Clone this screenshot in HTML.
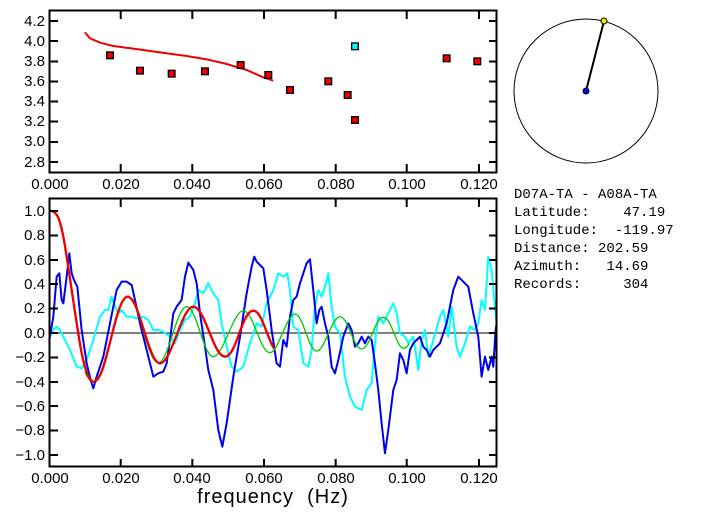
<!DOCTYPE html>
<html><head><style>
body{margin:0;background:#fff;}
svg{display:block;font-family:"Liberation Sans",sans-serif;}
.t{font-size:15px;fill:#000;}
.r{font-family:"Liberation Mono","DejaVu Sans Mono",monospace;font-size:14px;}
</style></head><body>
<svg width="703" height="519" viewBox="0 0 703 519" xmlns="http://www.w3.org/2000/svg">
<rect width="703" height="519" fill="#fff"/>
<rect x="49.5" y="10.5" width="447" height="162" fill="none" stroke="#000" stroke-width="2"/>
<g stroke="#000" stroke-width="2">
<path d="M120.7 11v8M192.3 11v8M264 11v8M335.7 11v8M406.7 11v8M479 11v8M120.7 172v-8M192.3 172v-8M264 172v-8M335.7 172v-8M406.7 172v-8M479 172v-8"/>
<path d="M50 21h8M50 41h8M50 61.5h8M50 81.5h8M50 101.5h8M50 121.5h8M50 142h8M50 162h8M497 21h-8M497 41h-8M497 61.5h-8M497 81.5h-8M497 101.5h-8M497 121.5h-8M497 142h-8M497 162h-8"/>
</g>
<g class="t" text-anchor="end">
<text x="45" y="26">4.2</text><text x="45" y="46">4.0</text><text x="45" y="66">3.8</text><text x="45" y="86">3.6</text><text x="45" y="106">3.4</text><text x="45" y="126">3.2</text><text x="45" y="146">3.0</text><text x="45" y="167">2.8</text>
</g>
<g class="t" text-anchor="middle">
<text x="50" y="189">0.000</text><text x="121" y="189">0.020</text><text x="192" y="189">0.040</text><text x="264" y="189">0.060</text><text x="336" y="189">0.080</text><text x="407" y="189">0.100</text><text x="479" y="189">0.120</text>
</g>
<g transform="scale(0.3333)">
<polyline fill="none" stroke="#e00" stroke-width="6" points="255,97 270,115 300,128 340,138 400,146 480,157 560,168 620,178 680,192 740,210 790,232 820,242"/>
<g stroke="#000" stroke-width="4" fill="#e00">
<rect x="320" y="156" width="20" height="20"/><rect x="410" y="202" width="20" height="20"/><rect x="505" y="211" width="20" height="20"/><rect x="605" y="204" width="20" height="20"/><rect x="712" y="185" width="20" height="20"/><rect x="795" y="215" width="20" height="20"/><rect x="860" y="260" width="20" height="20"/><rect x="975" y="234" width="20" height="20"/><rect x="1033" y="275" width="20" height="20"/><rect x="1055" y="350" width="20" height="20"/><rect x="1330" y="165" width="20" height="20"/><rect x="1422" y="174" width="20" height="20"/>
<rect x="1055" y="129" width="20" height="20" fill="#0ff"/>
</g>
</g>
<circle cx="586" cy="91" r="72" fill="none" stroke="#000" stroke-width="1"/>
<line x1="586" y1="91" x2="604" y2="21" stroke="#000" stroke-width="2"/>
<circle cx="604" cy="21" r="3" fill="#ee0" stroke="#000" stroke-width="1"/>
<circle cx="586" cy="91" r="3" fill="#00e" stroke="#000" stroke-width="1"/>
<g class="r">
<text x="514" y="198">D07A-TA&#160;-&#160;A08A-TA</text>
<text x="514" y="216">Latitude:&#160;&#160;&#160;&#160;47.19</text>
<text x="514" y="234">Longitude:&#160;&#160;-119.97</text>
<text x="514" y="252">Distance:&#160;202.59</text>
<text x="514" y="270">Azimuth:&#160;&#160;&#160;14.69</text>
<text x="514" y="288">Records:&#160;&#160;&#160;&#160;&#160;304</text>
</g>
<line x1="50" y1="333" x2="497" y2="333" stroke="#000" stroke-width="1"/>
<g transform="translate(0,190) scale(0.3333)" fill="none" stroke-linejoin="round">
<polyline stroke="#0ff" stroke-width="6" points="148,440 160,420 170,410 180,420 190,440 210,480 230,530 245,535 260,510 280,450 300,380 315,360 325,360 335,320 345,350 355,370 365,360 380,380 395,380 410,385 430,380 445,390 460,420 475,420 490,425 510,440 525,460 540,420 555,390 570,380 585,340 595,300 610,310 625,280 640,310 655,330 665,400 680,470 695,530 710,545 730,530 750,460 770,400 785,410 800,340 820,300 835,250 850,260 862,250 870,300 880,410 895,420 910,520 925,530 935,480 945,350 955,300 965,320 975,290 985,250 995,350 1005,410 1020,430 1035,560 1050,620 1065,650 1085,660 1100,600 1115,580 1125,460 1135,380 1150,400 1165,370 1180,340 1190,370 1200,430 1215,440 1225,460 1240,440 1255,540 1265,450 1275,420 1285,500 1300,450 1320,380 1330,360 1345,440 1355,350 1370,470 1380,500 1395,460 1410,410 1425,420 1435,400 1445,330 1455,360 1465,200 1475,240 1485,350 1490,400"/>
<polyline stroke="#00e" stroke-width="6" points="148,450 160,380 170,260 178,250 185,330 190,340 200,260 208,190 215,250 222,270 232,290 245,420 260,520 272,570 280,595 290,560 310,500 330,400 350,300 365,275 380,275 395,285 405,330 420,400 440,480 460,560 475,550 490,545 500,520 510,450 520,370 530,350 545,330 555,260 565,218 580,240 590,280 600,370 615,470 625,540 640,600 655,720 667,770 680,700 700,560 720,440 740,310 755,230 763,200 770,215 780,225 790,235 800,300 815,420 830,520 840,530 850,450 860,470 870,380 880,330 890,320 900,280 910,250 920,220 930,208 940,300 950,400 958,360 965,350 975,400 985,440 995,530 1005,550 1015,510 1030,440 1045,400 1055,420 1065,470 1075,460 1085,440 1095,460 1105,440 1115,450 1125,520 1135,600 1145,700 1155,790 1165,720 1180,600 1190,570 1200,490 1210,510 1220,550 1230,480 1240,460 1250,450 1260,440 1270,470 1280,480 1290,500 1300,480 1320,460 1340,400 1360,300 1375,260 1390,275 1405,290 1420,370 1435,440 1445,560 1455,500 1465,540 1475,500 1480,530 1487,420 1490,400"/>
<path stroke="#0c0" stroke-width="4" d="M255 545 C262 565 272 575 280 575 C317 575 346 320 383 320 C418 320 440 518 475 518 C505 518 530 350 560 350 C590 350 610 500 640 500 C670 500 700 362 730 362 C760 362 780 488 810 488 C835 488 860 372 885 372 C910 372 925 483 950 483 C975 483 995 380 1020 380 C1045 380 1060 477 1085 477 C1110 477 1125 382 1150 382 C1175 382 1190 475 1210 475 C1220 475 1225 465 1228 460"/>
<path stroke="#e00" stroke-width="7" d="M148 62 C170 62 178 80 190 140 C205 220 225 380 245 490 C258 550 268 575 282 575 C320 575 345 320 383 320 C418 320 445 520 480 520 C515 520 545 350 580 350 C615 350 640 500 675 500 C710 500 725 362 760 362 C785 362 800 440 822 475"/>
</g>
<rect x="49.5" y="198.5" width="447" height="268" fill="none" stroke="#000" stroke-width="2"/>
<g stroke="#000" stroke-width="2">
<path d="M120.7 199v8M192.3 199v8M264 199v8M335.7 199v8M406.7 199v8M479 199v8M120.7 467v-8M192.3 467v-8M264 467v-8M335.7 467v-8M406.7 467v-8M479 467v-8"/>
<path d="M50 211h8M50 235.5h8M50 260h8M50 284h8M50 308.5h8M50 333h8M50 357.5h8M50 382h8M50 406h8M50 430.5h8M50 455h8M497 211h-8M497 235.5h-8M497 260h-8M497 284h-8M497 308.5h-8M497 333h-8M497 357.5h-8M497 382h-8M497 406h-8M497 430.5h-8M497 455h-8"/>
</g>
<g class="t" text-anchor="end">
<text x="45" y="216">1.0</text><text x="45" y="240">0.8</text><text x="45" y="265">0.6</text><text x="45" y="289">0.4</text><text x="45" y="313">0.2</text><text x="45" y="338">0.0</text><text x="45" y="362">−0.2</text><text x="45" y="387">−0.4</text><text x="45" y="411">−0.6</text><text x="45" y="435">−0.8</text><text x="45" y="460">−1.0</text>
</g>
<g class="t" text-anchor="middle">
<text x="50" y="483">0.000</text><text x="121" y="483">0.020</text><text x="192" y="483">0.040</text><text x="264" y="483">0.060</text><text x="336" y="483">0.080</text><text x="407" y="483">0.100</text><text x="479" y="483">0.120</text>
<text x="273" y="503" style="font-size:20px;letter-spacing:1px">frequency&#160;&#160;(Hz)</text>
</g>
</svg>
</body></html>
